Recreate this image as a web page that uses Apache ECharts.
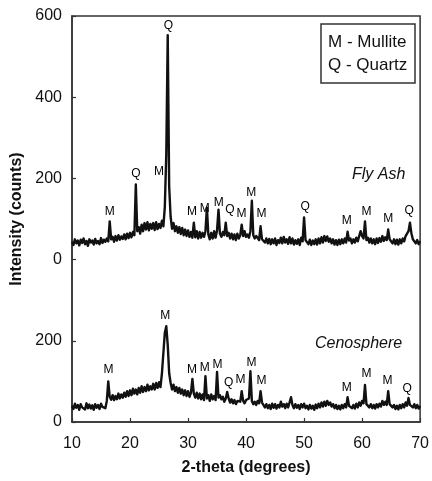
<!DOCTYPE html>
<html><head><meta charset="utf-8">
<script src="https://cdn.jsdelivr.net/npm/echarts@6/dist/echarts.min.js"></script>
<style>html,body{margin:0;padding:0;background:#fff}#c{width:432px;height:481px}</style>
</head><body><div id="c"></div>
<script>
// XRD scan: 2-theta from 10 to 70 degrees, step 0.25
const scanStart = 10, scanStep = 0.25;

// Fly Ash intensity (counts), one row = 2 degrees
const flyAsh = [
  44,36,50,40, 47,35,49,41,
  52,38,46,34, 50,42,47,37,
  51,40,46,38, 53,41,49,44,
  52,45,94,50, 56,44,58,47,
  60,49,57,51, 62,50,64,53,
  66,55,68,60, 185,70,80,64,
  86,70,90,74, 92,72,88,76,
  90,73,92,75, 88,78,96,82,
  130,260,553,180, 105,76,90,70,
  82,66,80,63, 78,60,74,58,
  72,56,68,54, 91,55,70,52,
  68,54,66,56, 70,128,62,50,
  66,52,70,54, 72,123,64,56,
  68,60,91,58, 66,52,64,50,
  62,48,64,52, 60,86,58,70,
  56,62,54,70, 145,60,52,58,
  56,48,82,50, 54,42,52,40,
  51,38,50,40, 52,36,48,41,
  54,40,56,42, 50,39,55,40,
  52,37,48,39, 50,36,54,45,
  104,48,50,38, 49,36,47,38,
  50,37,52,40, 55,42,58,46,
  57,44,52,40, 50,37,48,36,
  49,38,50,40, 52,42,69,47,
  52,40,50,42, 54,45,58,70,
  58,52,94,48, 54,42,52,40,
  50,38,52,41, 53,44,58,46,
  55,48,74,50, 52,40,50,38,
  49,37,50,40, 52,45,58,62,
  70,91,65,50, 52,40,48,38,
  46
];

// Cenosphere intensity (counts)
const cenosphere = [
  40,32,45,35, 42,30,44,36,
  39,31,46,34, 43,33,41,30,
  44,35,42,32, 45,37,40,34,
  52,100,62,55, 66,54,64,56,
  70,58,68,60, 72,62,76,64,
  78,66,82,70, 80,68,84,72,
  88,74,86,76, 92,78,88,80,
  94,80,96,84, 98,86,120,170,
  220,236,190,120, 96,80,92,76,
  86,72,84,70, 80,66,78,64,
  76,62,72,106, 70,60,72,58,
  70,56,68,54, 113,58,66,52,
  68,56,64,54, 123,60,66,56,
  62,50,58,74, 58,48,56,46,
  54,44,52,48, 50,76,52,46,
  54,50,58,125, 52,44,50,42,
  52,46,76,48, 46,36,44,34,
  42,32,45,35, 44,33,42,36,
  50,38,44,34, 45,36,48,61,
  42,34,44,35, 42,32,44,36,
  45,34,40,31, 42,33,40,30,
  43,34,45,36, 48,38,50,40,
  52,42,48,38, 44,34,42,32,
  40,31,42,34, 44,36,61,40,
  44,34,42,33, 45,36,48,40,
  52,46,91,44, 46,36,44,34,
  42,33,44,36, 45,38,52,42,
  50,42,76,44, 46,36,42,32,
  40,31,42,34, 44,36,48,40,
  59,42,46,36, 44,34,42,33,
  40
];

// Fly Ash trace is drawn shifted up by this many counts
const flyAshOffset = 400;

// Phase labels: [2-theta, counts, phase]
const flyAshPeakLabels = [
  [16.5,118,'M'],[21.0,212,'Q'],[25.0,217,'M'],[26.6,575,'Q'],[30.7,118,'M'],
  [32.9,126,'M'],[35.3,141,'M'],[37.2,123,'Q'],[39.2,113,'M'],[40.9,165,'M'],
  [42.65,113,'M'],[50.2,131,'Q'],[57.35,96,'M'],[60.77,118,'M'],[64.5,101,'M'],[68.1,121,'Q']
];
const cenoPeakLabels = [
  [16.3,130,'M'],[26.07,263,'M'],[30.7,130,'M'],[32.9,133,'M'],[35.1,140,'M'],
  [37.0,98,'Q'],[39.06,103,'M'],[40.94,147,'M'],[42.65,101,'M'],[57.35,84,'M'],
  [60.77,120,'M'],[64.36,101,'M'],[67.78,81,'Q']
];

const FONT = '"Liberation Sans", Arial, sans-serif';
const toPairs = (arr, off) => arr.map((v, i) => [scanStart + i * scanStep, v + off]);

const chart = echarts.init(document.getElementById('c'), null, {renderer: 'canvas'});
chart.setOption({
  animation: false,
  backgroundColor: '#fff',
  grid: {left: 72, right: 9, top: 16, bottom: 58, show: true, borderColor: '#333', borderWidth: 1.5, backgroundColor: 'transparent'},
  xAxis: {
    type: 'value', min: 10, max: 70, interval: 10,
    name: '2-theta (degrees)', nameLocation: 'middle', nameGap: 38,
    nameTextStyle: {fontFamily: FONT, fontSize: 16, fontWeight: 'bold', color: '#111'},
    axisLine: {lineStyle: {color: '#333', width: 1.5}},
    axisTick: {inside: true, length: 4, lineStyle: {color: '#333', width: 1.2}},
    axisLabel: {fontFamily: FONT, fontSize: 16, color: '#111', margin: 14},
    splitLine: {show: false}
  },
  yAxis: {
    type: 'value', min: 0, max: 1000, interval: 200,
    name: 'Intensity (counts)', nameLocation: 'middle', nameGap: 41,
    nameTextStyle: {fontFamily: FONT, fontSize: 16, fontWeight: 'bold', color: '#111'},
    axisLine: {show: true, lineStyle: {color: '#333', width: 1.5}},
    axisTick: {show: true, inside: true, length: 4, lineStyle: {color: '#333', width: 1.2}},
    axisLabel: {fontFamily: FONT, fontSize: 16, color: '#111', margin: 10,
      formatter: v => (v >= flyAshOffset ? v - flyAshOffset : v)},
    splitLine: {show: false}
  },
  series: [
    {type: 'line', data: toPairs(cenosphere, 0), showSymbol: false, symbol: 'none',
     lineStyle: {color: '#111', width: 2.4, join: 'round'}, z: 2},
    {type: 'line', data: toPairs(flyAsh, flyAshOffset), showSymbol: false, symbol: 'none',
     lineStyle: {color: '#111', width: 2.4, join: 'round'}, z: 2},
    {type: 'scatter', symbolSize: 0, itemStyle: {color: '#111'}, z: 5,
     data: flyAshPeakLabels.map(d => [d[0], d[1] + flyAshOffset, d[2]]).concat(cenoPeakLabels),
     label: {show: true, position: 'inside', formatter: p => p.data[2],
       fontFamily: FONT, fontSize: 12, color: '#000', textBorderWidth: 0, opacity: 1}}
  ],
  graphic: [
    {type: 'rect', shape: {x: 321, y: 24, width: 94, height: 59},
     style: {fill: '#fff', stroke: '#333', lineWidth: 1.5}, z: 10},
    {type: 'text', x: 328, y: 42, style: {text: 'M - Mullite', font: '17px ' + FONT, fill: '#111', verticalAlign: 'middle'}, z: 11},
    {type: 'text', x: 328, y: 65, style: {text: 'Q - Quartz', font: '17px ' + FONT, fill: '#111', verticalAlign: 'middle'}, z: 11},
    {type: 'text', x: 352, y: 175, style: {text: 'Fly Ash', font: 'italic 16px ' + FONT, fill: '#111', verticalAlign: 'middle'}, z: 11},
    {type: 'text', x: 315, y: 344, style: {text: 'Cenosphere', font: 'italic 16px ' + FONT, fill: '#111', verticalAlign: 'middle'}, z: 11}
  ]
});
</script></body></html>
